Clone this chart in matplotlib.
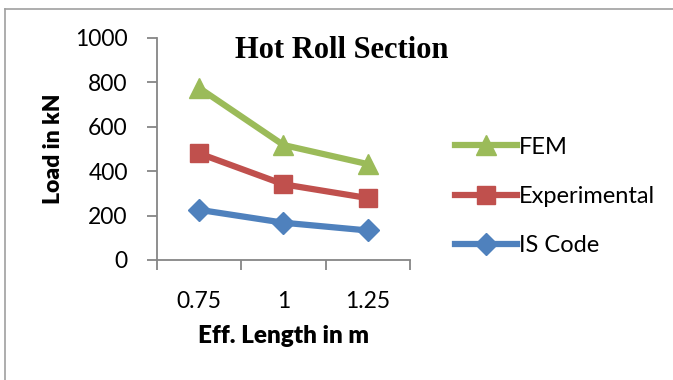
import matplotlib.pyplot as plt
from matplotlib.lines import Line2D

# data
lengths = ['0.75', '1', '1.25']
is_code = [226, 168, 133]
experimental = [480, 341, 279]
fem = [775, 518, 432]

green = '#9BBB59'
red = '#C0504D'
blue = '#4F81BD'
grey = '#868686'

plt.rcParams['font.family'] = ['Lato', 'DejaVu Sans']

fig = plt.figure(figsize=(6.73, 3.8), dpi=100)
ax = fig.add_axes([0.2333, 0.3158, 0.609 - 0.2333, 0.9 - 0.3158])

x = range(1, len(lengths) + 1)
ax.plot(x, is_code, color=blue, lw=4.5, marker='D', ms=11, label='IS Code')
ax.plot(x, experimental, color=red, lw=4.5, marker='s', ms=13, label='Experimental')
ax.plot(x, fem, color=green, lw=4.5, marker='^', ms=15, label='FEM')

ax.set_xlim(0.5, 3.5)
ax.set_ylim(0, 1000)
ax.set_yticks([0, 200, 400, 600, 800, 1000])

# category boundary ticks, labels centred on the categories
ax.set_xticks([0.5, 1.5, 2.5, 3.5])
ax.set_xticklabels([])
ax.set_xticks(list(x), minor=True)
ax.set_xticklabels(lengths, minor=True)
ax.tick_params(axis='x', which='minor', length=0, pad=22, labelsize=16.5)
ax.tick_params(axis='x', which='major', length=7, color=grey, width=1.3)
ax.tick_params(axis='y', length=7, color=grey, width=1.3, labelsize=16.5, pad=14)

for side in ['top', 'right']:
    ax.spines[side].set_visible(False)
for side in ['left', 'bottom']:
    ax.spines[side].set_color(grey)
    ax.spines[side].set_linewidth(1.3)

ax.set_xlabel('Eff. Length in m', fontsize=17.5, fontweight='heavy', labelpad=10)
ax.set_ylabel('Load in kN', fontsize=16.5, fontweight='heavy', labelpad=8)

fig.text(0.508, 0.868, 'Hot Roll Section', fontsize=22, fontweight='bold',
         family='Liberation Serif', ha='center', va='center')

# legend in FEM, Experimental, IS Code order
handles, labels = ax.get_legend_handles_labels()
fig.legend(handles[::-1], labels[::-1], loc='center left',
           bbox_to_anchor=(0.645, 0.483), frameon=False, fontsize=17,
           handlelength=2.6, handletextpad=0.1, labelspacing=1.2)

# outer chart border, cut off at right and bottom as in the reference
fig.add_artist(Line2D([0.0075, 0.0075], [0, 0.976], color='#a0a0a0', lw=1.2))
fig.add_artist(Line2D([0.0075, 1.0], [0.976, 0.976], color='#a0a0a0', lw=1.2))

fig.savefig('out.png', dpi=100)
